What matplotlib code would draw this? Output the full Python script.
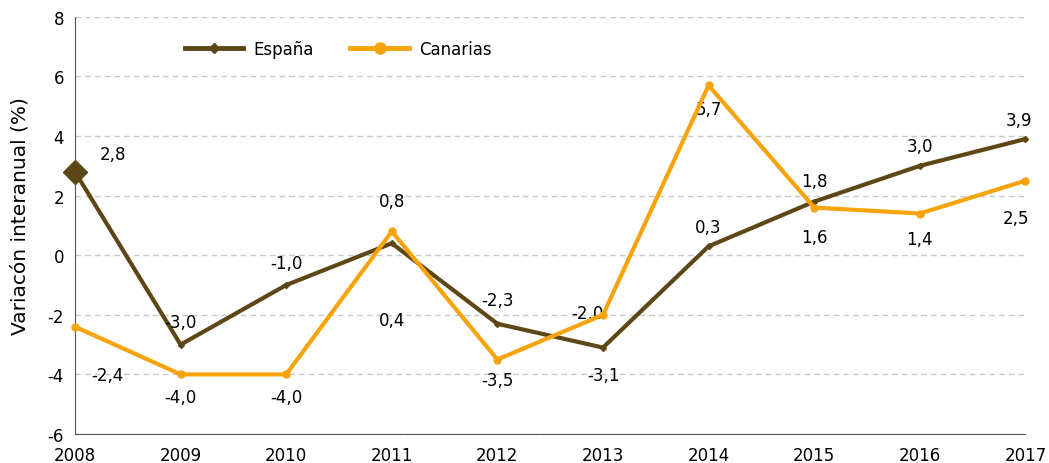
import matplotlib.pyplot as plt
from matplotlib.lines import Line2D

years = [2008, 2009, 2010, 2011, 2012, 2013, 2014, 2015, 2016, 2017]
espana = [2.8, -3.0, -1.0, 0.4, -2.3, -3.1, 0.3, 1.8, 3.0, 3.9]
canarias = [-2.4, -4.0, -4.0, 0.8, -3.5, -2.0, 5.7, 1.6, 1.4, 2.5]

# label offsets in points (dx, dy)
esp_off = [(27, 13), (0, 16), (0, 16), (0, -55), (0, 17), (0, -20), (0, 14), (0, 15), (0, 14), (-5, 14)]
can_off = [(23, -35), (0, -16), (0, -16), (0, 22), (0, -15), (-11, 1), (0, -17), (0, -21), (0, -18), (-7, -27)]

brown = '#5e4716'
orange = '#f7a30c'

plt.rcParams['font.family'] = ['DejaVu Sans']
plt.rcParams['axes.unicode_minus'] = False

fig = plt.figure(figsize=(10.49, 4.64), dpi=100)
ax = fig.add_axes([0.0715, 0.0625, 0.906, 0.899])

ax.plot(years, espana, color=brown, lw=3, marker='D', ms=3, zorder=3, clip_on=False)
ax.plot(years[:1], espana[:1], color=brown, marker='D', ms=12, ls='none', zorder=3,
        clip_on=False)
ax.plot(years, canarias, color=orange, lw=3, marker='o', ms=5, zorder=4,
        solid_capstyle='round', clip_on=False)

for x, y, (dx, dy) in zip(years, espana, esp_off):
    ax.annotate(f'{y:.1f}'.replace('.', ','), (x, y), xytext=(dx, dy),
                textcoords='offset points', ha='center', va='center', fontsize=12)
for x, y, (dx, dy) in zip(years, canarias, can_off):
    ax.annotate(f'{y:.1f}'.replace('.', ','), (x, y), xytext=(dx, dy),
                textcoords='offset points', ha='center', va='center', fontsize=12)

ax.set_xlim(2008, 2017)
ax.set_ylim(-6, 8)
ax.set_xticks(years)
ax.set_yticks(range(-6, 9, 2))
ax.tick_params(axis='both', length=0, labelsize=12)
ax.tick_params(axis='x', pad=9)
ax.tick_params(axis='y', pad=8)
ax.yaxis.grid(True, color='#c8c8c8', ls=(0, (4, 3)), lw=1)
ax.set_axisbelow(True)
for s in ['top', 'right']:
    ax.spines[s].set_visible(False)
for s in ['left', 'bottom']:
    ax.spines[s].set_color('#555555')
ax.set_ylabel('Variacón interanual (%)', fontsize=14.5)
ax.yaxis.set_label_coords(-0.048, 0.525)

handles = [Line2D([], [], color=brown, lw=3.5, marker='D', ms=5),
           Line2D([], [], color=orange, lw=3.5, marker='o', ms=8)]
ax.legend(handles, ['España', 'Canarias'], loc='upper left', bbox_to_anchor=(0.1, 0.98),
          ncol=2, frameon=False, fontsize=12, handlelength=3.5, columnspacing=2.2,
          handletextpad=0.6)

fig.savefig('out.png', dpi=100)
